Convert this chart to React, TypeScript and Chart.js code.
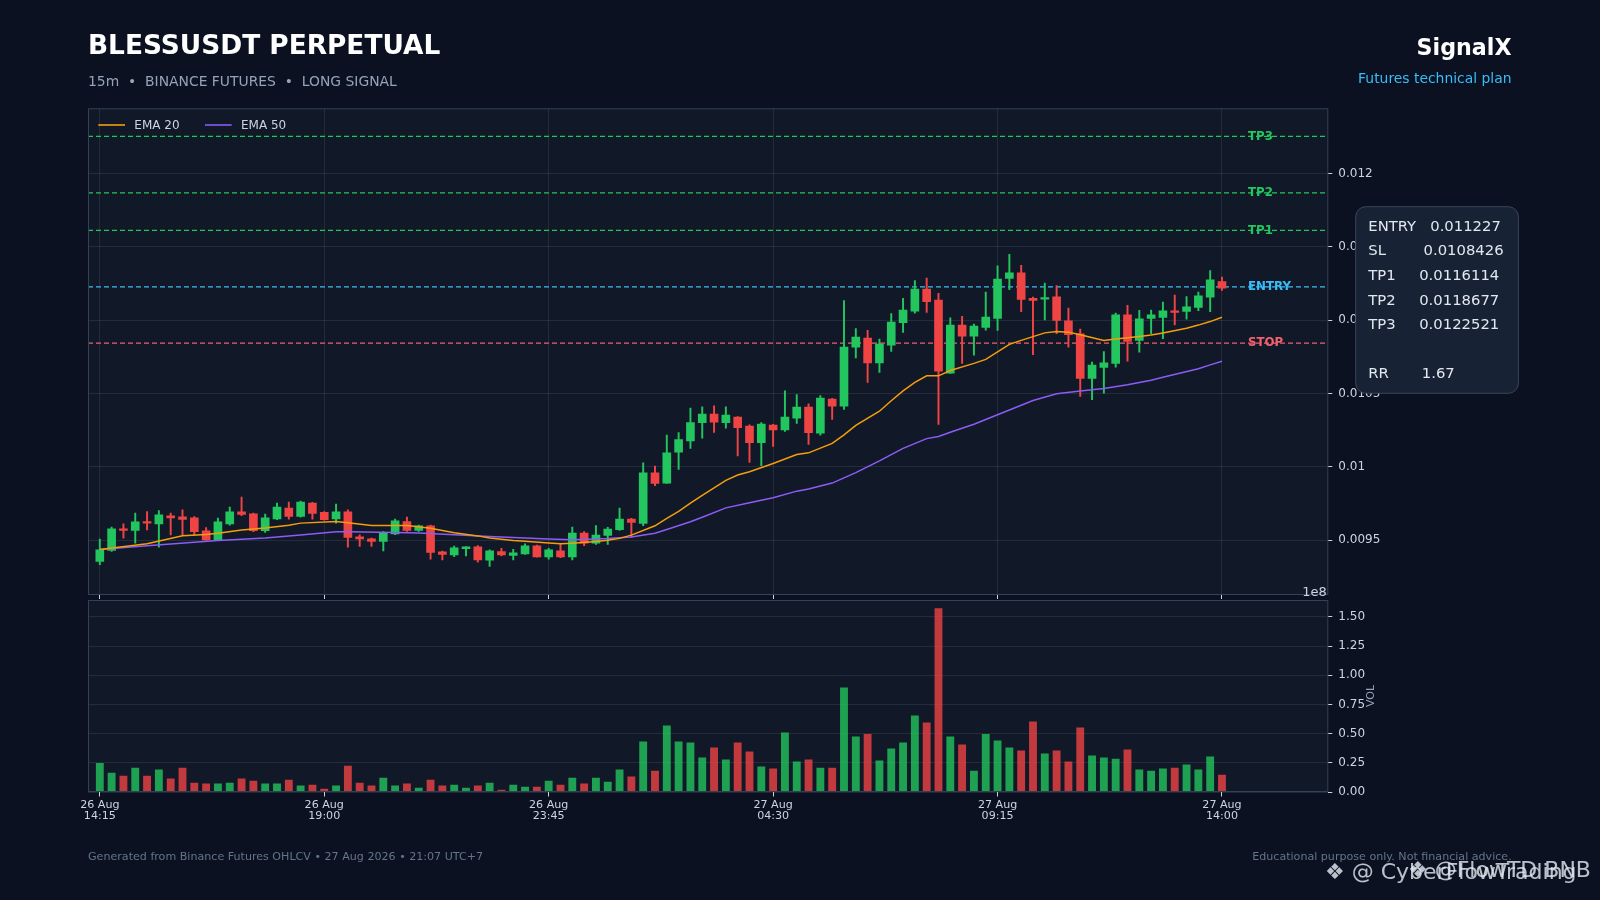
import React, { useEffect, useRef } from 'react';
import { Chart, registerables } from 'chart.js';

Chart.register(...registerables);

const FONT = '"DejaVu Sans", "Noto Sans", sans-serif';

// ---------------- data ----------------
const OPEN = [
  0.009355, 0.00943, 0.009577, 0.009566, 0.009627, 0.009611, 0.009666, 0.009659, 0.009652, 0.009564,
  0.009502, 0.009611, 0.009693, 0.00968, 0.009564, 0.009645, 0.009718, 0.009661, 0.009752, 0.009689,
  0.009645, 0.009693, 0.009523, 0.009509, 0.009491, 0.009543, 0.009626, 0.009566, 0.009598, 0.00942,
  0.0094, 0.009441, 0.009454, 0.009363, 0.009422, 0.009395, 0.009406, 0.009461, 0.009386, 0.009427,
  0.009386, 0.009548, 0.009479, 0.009532, 0.009571, 0.009644, 0.009614, 0.009959, 0.009888, 0.0101,
  0.010177, 0.0103, 0.010359, 0.0103, 0.010339, 0.010277, 0.010164, 0.010284, 0.010252, 0.010332,
  0.010407, 0.01023, 0.010461, 0.010414, 0.010816, 0.010877, 0.010709, 0.01083, 0.010982, 0.011061,
  0.011211, 0.011136, 0.010639, 0.010966, 0.010891, 0.01095, 0.011011, 0.011284, 0.011323, 0.011148,
  0.011143, 0.011159, 0.010995, 0.010907, 0.010602, 0.010677, 0.010705, 0.011036, 0.010861, 0.011011,
  0.011018, 0.011064, 0.011059, 0.011086, 0.011156, 0.011263,
];
const HIGH = [
  0.009507, 0.009589, 0.009611, 0.009684, 0.009695, 0.009702, 0.009684, 0.009707, 0.009661, 0.009586,
  0.00965, 0.009725, 0.009793, 0.009684, 0.009677, 0.009752, 0.009759, 0.009766, 0.009757, 0.009695,
  0.009745, 0.009707, 0.009536, 0.009514, 0.009559, 0.009644, 0.009658, 0.009603, 0.009603, 0.009425,
  0.009459, 0.009456, 0.009463, 0.009434, 0.009445, 0.009438, 0.009475, 0.009466, 0.009445, 0.009479,
  0.009589, 0.009559, 0.0096, 0.009587, 0.009719, 0.009648, 0.010027, 0.010005, 0.010217, 0.010233,
  0.0104, 0.010409, 0.010416, 0.010409, 0.010343, 0.010286, 0.010302, 0.010289, 0.010518, 0.010493,
  0.01043, 0.010486, 0.010466, 0.011134, 0.010943, 0.01093, 0.01087, 0.011045, 0.011148, 0.01127,
  0.011286, 0.011182, 0.011016, 0.011025, 0.010973, 0.011191, 0.01137, 0.011448, 0.011373, 0.011157,
  0.011252, 0.011236, 0.011082, 0.010939, 0.010714, 0.010786, 0.011048, 0.0111, 0.011066, 0.011068,
  0.011123, 0.01117, 0.011161, 0.011191, 0.011338, 0.011293,
];
const LOW = [
  0.009332, 0.009423, 0.009514, 0.00948, 0.00957, 0.009452, 0.009536, 0.009536, 0.009536, 0.009498,
  0.009498, 0.009602, 0.009666, 0.009557, 0.009552, 0.009639, 0.009643, 0.009657, 0.009643, 0.009636,
  0.009616, 0.009452, 0.009457, 0.009457, 0.009427, 0.009537, 0.009559, 0.009559, 0.00937, 0.009365,
  0.009388, 0.009393, 0.009349, 0.00932, 0.009393, 0.009365, 0.009402, 0.009384, 0.00937, 0.009381,
  0.009365, 0.009463, 0.00947, 0.00947, 0.009566, 0.009521, 0.009598, 0.009872, 0.009886, 0.009982,
  0.010125, 0.010195, 0.010234, 0.010264, 0.010075, 0.01003, 0.010007, 0.010139, 0.010241, 0.010295,
  0.010152, 0.010216, 0.010323, 0.010391, 0.010743, 0.010575, 0.010643, 0.010786, 0.010916, 0.011048,
  0.011052, 0.010289, 0.010636, 0.010705, 0.010761, 0.010932, 0.01093, 0.011207, 0.011057, 0.010764,
  0.011002, 0.010907, 0.010816, 0.01048, 0.010457, 0.010502, 0.01068, 0.01072, 0.010782, 0.010907,
  0.010873, 0.010968, 0.011007, 0.011064, 0.011057, 0.011202,
];
const CLOSE = [
  0.009434, 0.009577, 0.009566, 0.009625, 0.009616, 0.009673, 0.009652, 0.009641, 0.009557, 0.009502,
  0.009625, 0.009693, 0.009675, 0.009564, 0.009652, 0.009725, 0.009661, 0.009759, 0.009682, 0.009639,
  0.009693, 0.009518, 0.009509, 0.009491, 0.009548, 0.009632, 0.009566, 0.009598, 0.009416, 0.009402,
  0.009447, 0.009454, 0.009365, 0.009427, 0.0094, 0.009413, 0.009461, 0.009386, 0.009434, 0.009386,
  0.009548, 0.009479, 0.009534, 0.009575, 0.009644, 0.009621, 0.009959, 0.009886, 0.010096, 0.010185,
  0.010302, 0.010359, 0.010305, 0.010352, 0.010266, 0.010164, 0.010291, 0.010252, 0.010339, 0.010407,
  0.010232, 0.010468, 0.010414, 0.010816, 0.010884, 0.010709, 0.010836, 0.010986, 0.011068, 0.011211,
  0.011125, 0.010652, 0.010966, 0.010891, 0.010959, 0.01102, 0.01128, 0.011323, 0.011141, 0.011134,
  0.01115, 0.010998, 0.0109, 0.010602, 0.010693, 0.010709, 0.011036, 0.010855, 0.011009, 0.011036,
  0.011064, 0.011052, 0.011091, 0.011166, 0.011274, 0.011218,
];
const VOLUME = [
  24.6e6, 16.3e6, 13.7e6, 20.6e6, 13.7e6, 18.9e6, 11.2e6, 20.6e6, 7.7e6, 6.9e6,
  6.9e6, 7.7e6, 11.2e6, 9.4e6, 6.9e6, 6.9e6, 10.3e6, 5.2e6, 6.0e6, 2.6e6,
  5.2e6, 22.3e6, 7.7e6, 5.2e6, 12.0e6, 5.2e6, 6.9e6, 3.4e6, 10.3e6, 5.2e6,
  6.0e6, 3.4e6, 5.2e6, 7.7e6, 1.7e6, 6.0e6, 4.3e6, 4.3e6, 9.4e6, 6.0e6,
  12.0e6, 6.9e6, 12.0e6, 8.6e6, 18.9e6, 12.9e6, 42.9e6, 18.0e6, 56.7e6, 42.9e6,
  42.1e6, 29.2e6, 37.8e6, 27.5e6, 42.1e6, 34.4e6, 21.5e6, 19.8e6, 50.7e6, 25.8e6,
  27.5e6, 20.6e6, 20.6e6, 89.3e6, 47.2e6, 49.5e6, 26.6e6, 36.9e6, 42.1e6, 65.3e6,
  59.3e6, 157.2e6, 47.2e6, 40.4e6, 18.0e6, 49.5e6, 43.8e6, 37.8e6, 35.2e6, 60.1e6,
  32.6e6, 35.2e6, 25.8e6, 55.0e6, 30.9e6, 29.2e6, 28.3e6, 36.1e6, 18.9e6, 18.0e6,
  19.8e6, 20.6e6, 23.2e6, 18.9e6, 30.1e6, 14.6e6,
];
const EMA20_X = [
  0, 4, 7, 9, 10, 12, 14, 16, 17, 20, 21, 23, 25, 26, 28, 30, 32, 33, 35, 36, 38, 39, 40, 42, 43, 44,
  45, 47, 48, 49, 50, 51, 53, 54, 55, 57, 59, 60, 62, 63, 64, 66, 67, 68, 69, 70, 71, 72, 74, 75, 77,
  78, 80, 81, 82, 83, 85, 86, 88, 89, 90, 92, 93, 94, 95,
];
const EMA20 = [
  0.009436, 0.009476, 0.00953, 0.009539, 0.009547, 0.009569, 0.009582, 0.009601, 0.009616, 0.009627,
  0.009619, 0.009599, 0.0096, 0.009599, 0.009581, 0.009551, 0.009529, 0.009514, 0.009497, 0.009492,
  0.00948, 0.009475, 0.009478, 0.00949, 0.0095, 0.009512, 0.009534, 0.009598, 0.009648, 0.009696,
  0.009752, 0.009806, 0.009908, 0.009944, 0.009966, 0.010023, 0.010084, 0.010095, 0.01016, 0.010218,
  0.010282, 0.010379, 0.01045, 0.010518, 0.010575, 0.01062, 0.01062, 0.010656, 0.010705, 0.010732,
  0.010835, 0.010862, 0.010913, 0.010923, 0.010918, 0.0109, 0.010861, 0.010871, 0.010888, 0.010898,
  0.010912, 0.010945, 0.010966, 0.01099, 0.01102,
];
const EMA50_X = [
  0, 4, 10, 14, 17, 20, 21, 25, 27, 30, 33, 36, 38, 40, 42, 43, 45, 47, 48, 50, 51, 53, 55, 57, 59,
  60, 62, 64, 66, 68, 70, 71, 72, 74, 75, 79, 81, 83, 85, 87, 89, 90, 93, 94, 95,
];
const EMA50 = [
  0.009436, 0.009462, 0.009497, 0.009514, 0.009535, 0.009557, 0.009557, 0.009552, 0.009548, 0.009537,
  0.009525, 0.009515, 0.009507, 0.009502, 0.009508, 0.009511, 0.009521, 0.009547, 0.009572, 0.009625,
  0.009656, 0.00972, 0.009755, 0.009789, 0.009834, 0.009849, 0.009889, 0.00996, 0.01004, 0.010126,
  0.010192, 0.010207, 0.010236, 0.01029, 0.010322, 0.010452, 0.010498, 0.010517, 0.010534, 0.010559,
  0.01059, 0.01061, 0.010668, 0.010695, 0.010719,
];
const LEVEL_NAMES = ['TP3', 'TP2', 'TP1', 'ENTRY', 'STOP'];
const LEVEL_VALUES = [0.0122521, 0.0118677, 0.0116114, 0.011227, 0.0108426];
const PRICE_TICKS = [0.0095, 0.01, 0.0105, 0.011, 0.0115, 0.012];
const PRICE_TICK_LABELS = ['0.0095', '0.01', '0.0105', '0.011', '0.0115', '0.012'];
const VOL_TICKS = [0, 0.25e8, 0.5e8, 0.75e8, 1.0e8, 1.25e8, 1.5e8];
const VOL_TICK_LABELS = ['0.00', '0.25', '0.50', '0.75', '1.00', '1.25', '1.50'];
const X_TICKS = [0, 19, 38, 57, 76, 95];
const X_TICK_LABELS = [
  ['26 Aug', '14:15'],
  ['26 Aug', '19:00'],
  ['26 Aug', '23:45'],
  ['27 Aug', '04:30'],
  ['27 Aug', '09:15'],
  ['27 Aug', '14:00'],
];
const PLAN_LINES = [
  'ENTRY   0.011227',
  'SL        0.0108426',
  'TP1     0.0116114',
  'TP2     0.0118677',
  'TP3     0.0122521',
  '',
  'RR       1.67',
];

// ---------------- layout / style ----------------
const W = 1600;
const H = 900;
const PAGE_BG = '#0b1120';
const PLOT_BG = '#111827';
const GRID = 'rgba(148,163,184,0.15)';
const SPINE = '#334155';
const TICK_TXT = '#cbd5e1';
const UP = '#22c55e';
const DOWN = '#ef4444';
const UP_VOL = 'rgba(34,197,94,0.8)';
const DOWN_VOL = 'rgba(239,68,68,0.8)';
const LEVEL_COLORS = ['#22c55e', '#22c55e', '#22c55e', '#38bdf8', '#f0606f'];
const X_MIN = -1;
const X_MAX = 104;
const P_MIN = 0.009126;
const P_MAX = 0.012444;
const V_MAX = 1.645e8;
const LABEL_X = 97.2;
const PRICE_BOX = { left: 88, top: 108.3, right: 1328.3, bottom: 595 };
const VOL_BOX = { left: 88, top: 600, right: 1328.3, bottom: 792 };
const Y_AXIS_W = 70;
const PRICE_X_AXIS_H = 6;
const VOL_X_AXIS_H = 40;

const isUp = (i: number) => CLOSE[i] >= OPEN[i];

function fillPlot(chart: any) {
  const { ctx, chartArea: a } = chart;
  ctx.save();
  ctx.fillStyle = PLOT_BG;
  ctx.fillRect(a.left, a.top, a.right - a.left, a.bottom - a.top);
  ctx.restore();
}
function strokePlot(chart: any) {
  const { ctx, chartArea: a } = chart;
  ctx.save();
  ctx.strokeStyle = SPINE;
  ctx.lineWidth = 1;
  ctx.strokeRect(a.left + 0.5, a.top + 0.5, a.right - a.left - 1, a.bottom - a.top - 1);
  ctx.restore();
}

const pricePlugin = {
  id: 'pricePanel',
  beforeDraw(chart: any) {
    fillPlot(chart);
  },
  afterDraw(chart: any) {
    const { ctx, chartArea: a, scales } = chart;
    strokePlot(chart);
    ctx.save();
    // level labels
    ctx.font = `bold 11.8px ${FONT}`;
    ctx.textBaseline = 'middle';
    ctx.textAlign = 'left';
    LEVEL_NAMES.forEach((n, k) => {
      ctx.fillStyle = LEVEL_COLORS[k];
      ctx.fillText(n, scales.x.getPixelForValue(LABEL_X), scales.y.getPixelForValue(LEVEL_VALUES[k]));
    });
    // legend (EMA datasets)
    const emaSets = chart.data.datasets.filter((d: any) => d.isEma);
    let lx = a.left + 10.3;
    ctx.font = `12px ${FONT}`;
    ctx.textBaseline = 'alphabetic';
    emaSets.forEach((d: any) => {
      ctx.strokeStyle = d.borderColor;
      ctx.lineWidth = 1.6;
      ctx.beginPath();
      ctx.moveTo(lx, 125);
      ctx.lineTo(lx + 26.7, 125);
      ctx.stroke();
      ctx.fillStyle = TICK_TXT;
      ctx.fillText(d.label, lx + 36, 129.3);
      lx += 106.7;
    });
    // offset text of volume axis
    ctx.font = `13px ${FONT}`;
    ctx.textAlign = 'right';
    ctx.fillStyle = TICK_TXT;
    ctx.fillText('1e8', a.right - 1.5, 595.5);

    // header
    ctx.textAlign = 'left';
    ctx.fillStyle = '#ffffff';
    ctx.font = `bold 26.4px ${FONT}`;
    ctx.fillText('BLESSUSDT PERPETUAL', 88, 54.3);
    ctx.fillStyle = '#94a3b8';
    ctx.font = `13.9px ${FONT}`;
    ctx.fillText('15m  \u2022  BINANCE FUTURES  \u2022  LONG SIGNAL', 88, 86.3);
    ctx.textAlign = 'right';
    ctx.fillStyle = '#ffffff';
    ctx.font = `bold 22.2px ${FONT}`;
    ctx.fillText('SignalX', 1511.5, 55);
    ctx.fillStyle = '#38bdf8';
    ctx.font = `13.9px ${FONT}`;
    ctx.fillText('Futures technical plan', 1511.5, 82.5);

    // footer
    ctx.font = `11.1px ${FONT}`;
    ctx.fillStyle = '#64748b';
    ctx.textAlign = 'left';
    ctx.fillText('Generated from Binance Futures OHLCV \u2022 27 Aug 2026 \u2022 21:07 UTC+7', 88, 860);
    ctx.textAlign = 'right';
    ctx.fillText('Educational purpose only. Not financial advice.', 1511.7, 860);

    // watermark
    ctx.textAlign = 'left';
    ctx.font = `22px ${FONT}`;
    ctx.fillStyle = 'rgba(226,232,240,0.82)';
    ctx.fillText('\u2756 @ CyberFlowTrading', 1325, 879);
    ctx.fillText('\u2756 @FlowTD BNB', 1408, 877);

    // plan box
    const bx = 1355.7, by = 206.7, bw = 162.7, bh = 186.6;
    ctx.beginPath();
    ctx.roundRect(bx, by, bw, bh, 10);
    ctx.fillStyle = '#172234';
    ctx.fill();
    ctx.strokeStyle = 'rgba(71,85,105,0.75)';
    ctx.lineWidth = 1;
    ctx.stroke();
    ctx.font = `14.8px ${FONT}`;
    ctx.fillStyle = '#e2e8f0';
    ctx.textAlign = 'left';
    PLAN_LINES.forEach((t, k) => {
      if (t) ctx.fillText(t, 1368.3, 230.7 + k * 24.6);
    });
    ctx.restore();
  },
};

const volPlugin = {
  id: 'volPanel',
  beforeDraw(chart: any) {
    fillPlot(chart);
  },
  afterDraw(chart: any) {
    const { ctx, chartArea: a } = chart;
    strokePlot(chart);
    ctx.save();
    ctx.translate(1370.8, (a.top + a.bottom) / 2);
    ctx.rotate(-Math.PI / 2);
    ctx.font = `11px ${FONT}`;
    ctx.fillStyle = '#94a3b8';
    ctx.textAlign = 'center';
    ctx.textBaseline = 'middle';
    ctx.fillText('VOL', 0, 0);
    ctx.restore();
  },
};

function priceConfig(): any {
  const idx = OPEN.map((_, i) => i);
  const candleColors = idx.map((i) => (isUp(i) ? UP : DOWN));
  const levelSets = LEVEL_VALUES.map((v, k) => ({
    type: 'line',
    label: LEVEL_NAMES[k],
    data: [
      { x: X_MIN, y: v },
      { x: X_MAX, y: v },
    ],
    borderColor: LEVEL_COLORS[k],
    borderWidth: 1.2,
    borderDash: [5, 3],
    pointRadius: 0,
    order: 10,
  }));
  return {
    type: 'bar',
    data: {
      datasets: [
        {
          type: 'line',
          label: 'EMA 20',
          isEma: true,
          data: EMA20_X.map((x, k) => ({ x, y: EMA20[k] })),
          borderColor: '#f59e0b',
          borderWidth: 1.5,
          pointRadius: 0,
          order: 1,
        },
        {
          type: 'line',
          label: 'EMA 50',
          isEma: true,
          data: EMA50_X.map((x, k) => ({ x, y: EMA50[k] })),
          borderColor: '#8b5cf6',
          borderWidth: 1.5,
          pointRadius: 0,
          order: 2,
        },
        {
          type: 'bar',
          label: 'body',
          data: idx.map((i) => ({ x: i, y: [OPEN[i], CLOSE[i]] })),
          backgroundColor: candleColors,
          borderWidth: 0,
          barThickness: 8,
          minBarLength: 1.5,
          grouped: false,
          order: 4,
        },
        {
          type: 'bar',
          label: 'wick',
          data: idx.map((i) => ({ x: i, y: [LOW[i], HIGH[i]] })),
          backgroundColor: candleColors,
          borderWidth: 0,
          barThickness: 1.3,
          grouped: false,
          order: 5,
        },
        ...levelSets,
      ],
    },
    options: {
      responsive: false,
      animation: false,
      events: [],
      layout: {
        padding: {
          left: PRICE_BOX.left,
          top: PRICE_BOX.top,
          right: W - PRICE_BOX.right - Y_AXIS_W,
          bottom: H - PRICE_BOX.bottom - PRICE_X_AXIS_H,
        },
      },
      plugins: { legend: { display: false }, tooltip: { enabled: false } },
      scales: {
        x: {
          type: 'linear',
          min: X_MIN,
          max: X_MAX,
          offset: false,
          afterBuildTicks: (s: any) => {
            s.ticks = X_TICKS.map((v) => ({ value: v }));
          },
          afterFit: (s: any) => {
            s.height = PRICE_X_AXIS_H;
          },
          ticks: { display: false },
          grid: { offset: false, color: GRID, tickColor: TICK_TXT, tickLength: 4, lineWidth: 1 },
          border: { display: false },
        },
        y: {
          type: 'linear',
          position: 'right',
          min: P_MIN,
          max: P_MAX,
          afterBuildTicks: (s: any) => {
            s.ticks = PRICE_TICKS.map((v) => ({ value: v }));
          },
          afterFit: (s: any) => {
            s.width = Y_AXIS_W;
          },
          ticks: {
            color: TICK_TXT,
            font: { family: FONT, size: 12 },
            padding: 6,
            callback: (_v: any, i: number) => PRICE_TICK_LABELS[i],
          },
          grid: { offset: false, color: GRID, tickColor: TICK_TXT, tickLength: 4, lineWidth: 1 },
          border: { display: false },
        },
      },
    },
    plugins: [pricePlugin],
  };
}

function volConfig(): any {
  const idx = VOLUME.map((_, i) => i);
  return {
    type: 'bar',
    data: {
      datasets: [
        {
          label: 'Volume',
          data: idx.map((i) => ({ x: i, y: VOLUME[i] })),
          backgroundColor: idx.map((i) => (isUp(i) ? UP_VOL : DOWN_VOL)),
          borderWidth: 0,
          barThickness: 7.2,
          grouped: false,
        },
      ],
    },
    options: {
      responsive: false,
      animation: false,
      events: [],
      layout: {
        padding: {
          left: VOL_BOX.left,
          top: VOL_BOX.top,
          right: W - VOL_BOX.right - Y_AXIS_W,
          bottom: H - VOL_BOX.bottom - VOL_X_AXIS_H,
        },
      },
      plugins: { legend: { display: false }, tooltip: { enabled: false } },
      scales: {
        x: {
          type: 'linear',
          min: X_MIN,
          max: X_MAX,
          offset: false,
          afterBuildTicks: (s: any) => {
            s.ticks = X_TICKS.map((v) => ({ value: v }));
          },
          afterFit: (s: any) => {
            s.height = VOL_X_AXIS_H;
          },
          ticks: {
            color: TICK_TXT,
            font: { family: FONT, size: 11.1, lineHeight: 1.0 },
            padding: 3,
            maxRotation: 0,
            autoSkip: false,
            callback: (_v: any, i: number) => X_TICK_LABELS[i],
          },
          grid: { offset: false, drawOnChartArea: false, tickColor: TICK_TXT, tickLength: 4.5, lineWidth: 1 },
          border: { display: false },
        },
        y: {
          type: 'linear',
          position: 'right',
          min: 0,
          max: V_MAX,
          afterBuildTicks: (s: any) => {
            s.ticks = VOL_TICKS.map((v) => ({ value: v }));
          },
          afterFit: (s: any) => {
            s.width = Y_AXIS_W;
          },
          ticks: {
            color: TICK_TXT,
            font: { family: FONT, size: 12 },
            padding: 6,
            callback: (_v: any, i: number) => VOL_TICK_LABELS[i],
          },
          grid: { offset: false, color: GRID, tickColor: TICK_TXT, tickLength: 4, lineWidth: 1 },
          border: { display: false },
        },
      },
    },
    plugins: [volPlugin],
  };
}

export default function App() {
  const priceRef = useRef<HTMLCanvasElement>(null);
  const volRef = useRef<HTMLCanvasElement>(null);
  useEffect(() => {
    const pc = new Chart(priceRef.current as HTMLCanvasElement, priceConfig());
    const vc = new Chart(volRef.current as HTMLCanvasElement, volConfig());
    return () => {
      pc.destroy();
      vc.destroy();
    };
  }, []);
  const cs: React.CSSProperties = { position: 'absolute', left: 0, top: 0, width: W, height: H };
  return (
    <div style={{ position: 'absolute', left: 0, top: 0, width: W, height: H, background: PAGE_BG, overflow: 'hidden' }}>
      <canvas ref={priceRef} width={W} height={H} style={cs} />
      <canvas ref={volRef} width={W} height={H} style={cs} />
    </div>
  );
}
